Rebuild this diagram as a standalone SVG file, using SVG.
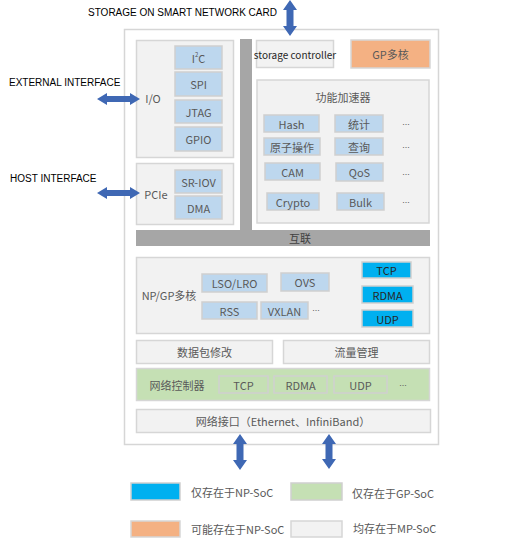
<svg xmlns="http://www.w3.org/2000/svg" width="531" height="544" viewBox="0 0 531 544">
<style>
text{font-family:"Noto Sans CJK SC","Noto Sans",sans-serif;font-size:11px;fill:#595959;text-anchor:middle;dominant-baseline:central}
.en{font-family:"Liberation Sans",Arial,sans-serif;fill:#000;font-size:10px;text-anchor:start}
.dots{font-family:"Liberation Sans",Arial,sans-serif;font-size:9px}
.panel{fill:#F2F2F2;stroke:#D6D6D6;stroke-width:1.5}
.lb{fill:#BDD7EE;stroke:#CFCFCF;stroke-width:1.5}
.bl{fill:#00B0F0;stroke:#CFCFCF;stroke-width:1.5}
.gr{fill:#C5E0B4;stroke:#D6D6D6;stroke-width:1.5}
.or{fill:#F4B183;stroke:#D6D6D6;stroke-width:1.5}
.gn{fill:#C5E0B4;stroke:#CFCFCF;stroke-width:1.5}
.bar{fill:#A6A6A6}
.arr{fill:#3F68B4}
</style>
<rect width="531" height="544" fill="#fff"/>
<g id="container"><rect x="124.5" y="29.5" width="314" height="415" fill="#fff" stroke="#D6D6D6" stroke-width="1.5"/></g>
<g id="labels">
<text class="en" x="88" y="12">STORAGE ON SMART NETWORK CARD</text>
<text class="en" x="9" y="82">EXTERNAL INTERFACE</text>
<text class="en" x="10" y="178">HOST INTERFACE</text>
</g>
<g id="bars">
<rect class="bar" x="240" y="39" width="12" height="192"/>
<rect class="bar" x="136" y="230" width="294" height="16"/>
<text x="300" y="238" style="fill:#404040">互联</text>
</g>
<g id="io">
<rect class="panel" x="136.5" y="40.5" width="97" height="117"/>
<text x="153" y="98">I/O</text>
<rect class="lb" x="175" y="46" width="47" height="23"/><text x="198.5" y="58">I<tspan dy="-4" font-size="6">2</tspan><tspan dy="4">C</tspan></text>
<rect class="lb" x="175" y="72" width="47" height="24"/><text x="198.5" y="84">SPI</text>
<rect class="lb" x="175" y="100" width="47" height="23"/><text x="198.5" y="111.5">JTAG</text>
<rect class="lb" x="175" y="127" width="47" height="24"/><text x="198.5" y="139">GPIO</text>
</g>
<g id="pcie">
<rect class="panel" x="136.5" y="163.5" width="97" height="61"/>
<text x="156" y="194">PCIe</text>
<rect class="lb" x="175" y="170" width="47" height="23"/><text x="198.5" y="181.5">SR-IOV</text>
<rect class="lb" x="175" y="196" width="47" height="23"/><text x="198.5" y="207.5">DMA</text>
</g>
<g id="storage-controller">
<rect class="panel" x="256.5" y="40.5" width="77" height="27"/>
<text x="295" y="54" style="fill:#262626;font-size:10px">storage controller</text>
</g>
<g id="gp-multicore">
<rect class="or" x="351" y="40" width="79" height="28"/>
<text x="390.5" y="54">GP多核</text>
</g>
<g id="accelerator">
<rect class="panel" x="257" y="80" width="172" height="143"/>
<text x="343" y="97">功能加速器</text>
<rect class="lb" x="264" y="115" width="55" height="17"/><text x="291.5" y="123.5">Hash</text>
<rect class="lb" x="335" y="115" width="48" height="17"/><text x="359" y="123.5">统计</text>
<text class="dots" x="406" y="122">...</text>
<rect class="lb" x="264" y="138" width="56" height="17"/><text x="292" y="146.5">原子操作</text>
<rect class="lb" x="335" y="138" width="48" height="17"/><text x="359" y="146.5">查询</text>
<text class="dots" x="406" y="145">...</text>
<rect class="lb" x="265" y="163" width="55" height="17"/><text x="292.5" y="171.5">CAM</text>
<rect class="lb" x="336" y="163" width="47" height="18"/><text x="359.5" y="172">QoS</text>
<text class="dots" x="406" y="172">...</text>
<rect class="lb" x="267" y="193" width="52" height="17"/><text x="293" y="201.5">Crypto</text>
<rect class="lb" x="337" y="193" width="47" height="17"/><text x="360.5" y="201.5">Bulk</text>
<text class="dots" x="406" y="200">...</text>
</g>
<g id="npgp">
<rect class="panel" x="136.5" y="257.5" width="293" height="76"/>
<text x="169" y="295">NP/GP多核</text>
<rect class="lb" x="202" y="274" width="65" height="18"/><text x="234.5" y="283">LSO/LRO</text>
<rect class="lb" x="281" y="273" width="48" height="18"/><text x="305" y="282">OVS</text>
<rect class="lb" x="202" y="302" width="55" height="17"/><text x="229.5" y="310.5">RSS</text>
<rect class="lb" x="261" y="302" width="47" height="17"/><text x="284.5" y="310.5">VXLAN</text>
<text class="dots" x="316" y="308">...</text>
<rect class="bl" x="362" y="262" width="49" height="16"/><text x="386.5" y="270" style="fill:#262626">TCP</text>
<rect class="bl" x="362" y="286" width="51" height="17"/><text x="387.5" y="294.5" style="fill:#262626">RDMA</text>
<rect class="bl" x="362" y="310" width="51" height="17"/><text x="387.5" y="318.5" style="fill:#262626">UDP</text>
</g>
<g id="packet-modify">
<rect class="panel" x="136.5" y="340.5" width="136" height="23"/>
<text x="204.5" y="352">数据包修改</text>
</g>
<g id="traffic-mgmt">
<rect class="panel" x="283.5" y="340.5" width="146" height="23"/>
<text x="356.5" y="352">流量管理</text>
</g>
<g id="net-controller">
<rect class="gr" x="136.5" y="368.5" width="293" height="32"/>
<text x="177" y="385">网络控制器</text>
<rect class="gn" x="219" y="376" width="49" height="17"/><text x="243.5" y="384.5">TCP</text>
<rect class="gn" x="274" y="376" width="53" height="17"/><text x="300.5" y="384.5">RDMA</text>
<rect class="gn" x="334" y="376" width="53" height="17"/><text x="360.5" y="384.5">UDP</text>
<text class="dots" x="403" y="383">...</text>
</g>
<g id="net-interface">
<rect class="panel" x="136.5" y="409.5" width="294" height="23"/>
<text x="283" y="421">网络接口（Ethernet、InfiniBand）</text>
</g>
<g id="connectors">
<path class="arr" d="M97,99 L107,93 L107,96 L130,96 L130,93 L140,99 L130,105 L130,102 L107,102 L107,105 Z"/>
<path class="arr" d="M97,193 L107,187 L107,190 L130,190 L130,187 L140,193 L130,199 L130,196 L107,196 L107,199 Z"/>
<path class="arr" d="M290,0 L297,10 L293.5,10 L293.5,26 L297,26 L290,36 L283,26 L286.5,26 L286.5,10 L283,10 Z"/>
<path class="arr" d="M240,434 L247,444 L243.5,444 L243.5,460 L247,460 L240,470 L233,460 L236.5,460 L236.5,444 L233,444 Z"/>
<path class="arr" d="M329,434 L336,444 L332.5,444 L332.5,459 L336,459 L329,469 L322,459 L325.5,459 L325.5,444 L322,444 Z"/>
</g>
<g id="legend">
<rect class="bl" x="131" y="483" width="49" height="17"/><text x="191" y="492" style="text-anchor:start">仅存在于NP-SoC</text>
<rect class="gn" x="291" y="483" width="51" height="17"/><text x="352" y="493" style="text-anchor:start">仅存在于GP-SoC</text>
<rect class="or" x="131" y="521" width="49" height="16"/><text x="191" y="529" style="text-anchor:start">可能存在于NP-SoC</text>
<rect class="panel" x="291" y="521" width="51" height="16"/><text x="353" y="528" style="text-anchor:start">均存在于MP-SoC</text>
</g>
</svg>
